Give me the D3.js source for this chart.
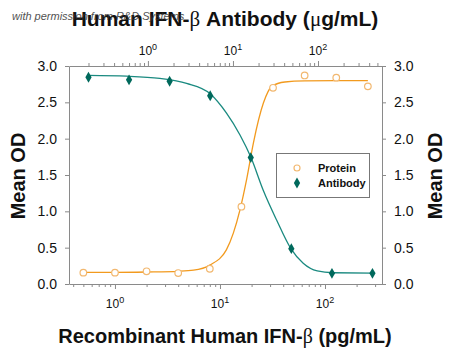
<!DOCTYPE html>
<html>
<head>
<meta charset="utf-8">
<script src="https://cdn.jsdelivr.net/npm/d3@7"></script>
<style>
  body { margin: 0; background: #fff; }
  svg text { font-family: "Liberation Sans", Arial, sans-serif; }
</style>
</head>
<body>
<div id="chart"></div>
<script>
// Protein (bottom axis, pg/mL) - measured points
const proteinConc = [0.5, 1, 2, 4, 8, 16, 32, 64, 128, 256];
const proteinOD = [0.156, 0.156, 0.175, 0.151, 0.21, 1.064, 2.70, 2.87, 2.84, 2.72];
// Protein fitted curve
const proteinFitConc = [0.5, 1, 2, 4, 5.6, 8, 11.5, 13.4, 15.5, 18, 20.8, 25.9, 31.2, 41.5, 64, 256];
const proteinFitOD = [0.16, 0.16, 0.165, 0.175, 0.19, 0.26, 0.47, 0.70, 1.02, 1.45, 1.94, 2.49, 2.72, 2.78, 2.795, 2.8];

// Antibody (top axis, ug/mL) - measured points
const antibodyConc = [0.2, 0.6, 1.8, 5.4, 16.2, 48.6, 146, 437];
const antibodyOD = [2.845, 2.81, 2.79, 2.59, 1.74, 0.486, 0.147, 0.147];
// Antibody fitted curve
const antibodyFitConc = [0.2, 0.56, 1.38, 2.85, 5.35, 8.4, 12.1, 16.3, 22.7, 32.6, 48, 67, 98, 150, 437];
const antibodyFitOD = [2.87, 2.86, 2.83, 2.76, 2.62, 2.35, 2.05, 1.74, 1.29, 0.88, 0.486, 0.285, 0.18, 0.155, 0.15];

const yTicks = [0, 0.5, 1.0, 1.5, 2.0, 2.5, 3.0];
const decadeExps = [0, 1, 2];
const legendLabels = ["Protein", "Antibody"];

const width = 450;
const height = 352;
const plot = { left: 69, right: 382, top: 66, bottom: 284 };

const orange = "#f29a1e";
const orangeLight = "#f2b870";
const teal = "#1a8a80";
const tealDark = "#00695c";
const axisColor = "#8a8a8a";

const svg = d3.select("#chart")
    .append("svg")
    .attr("width", width)
    .attr("height", height);

// Scales
const xBottom = d3.scaleLog()
    .domain([0.365, 349])
    .range([plot.left, plot.right]);

const xTop = d3.scaleLog()
    .domain([0.118, 566])
    .range([plot.left, plot.right]);

const y = d3.scaleLinear()
    .domain([0, 3])
    .range([plot.bottom, plot.top]);

// Log ticks: all 1..9 multiples inside the domain
function logTicks(scale) {
    const [a, b] = scale.domain();
    const vals = [];
    for (let e = -2; e <= 3; e++) {
        for (let m = 1; m <= 9; m++) {
            const v = m * Math.pow(10, e);
            if (v >= a && v <= b) vals.push(v);
        }
    }
    return vals;
}
const isMajor = v => Math.abs(Math.log10(v) - Math.round(Math.log10(v))) < 1e-9;

// Bottom axis
const gBottom = svg.append("g")
    .attr("transform", `translate(0, ${plot.bottom})`)
    .call(d3.axisBottom(xBottom).tickValues(logTicks(xBottom)).tickFormat("").tickSizeOuter(0));
gBottom.selectAll(".tick line").attr("y2", d => isMajor(d) ? 5 : 3);

// Top axis
const gTop = svg.append("g")
    .attr("transform", `translate(0, ${plot.top})`)
    .call(d3.axisTop(xTop).tickValues(logTicks(xTop)).tickFormat("").tickSizeOuter(0));
gTop.selectAll(".tick line").attr("y2", d => isMajor(d) ? -5 : -3);

// Left and right axes
const gLeft = svg.append("g")
    .attr("transform", `translate(${plot.left}, 0)`)
    .call(d3.axisLeft(y).tickValues(yTicks).tickFormat(d3.format(".1f")).tickSize(4).tickSizeOuter(0).tickPadding(8));

const gRight = svg.append("g")
    .attr("transform", `translate(${plot.right}, 0)`)
    .call(d3.axisRight(y).tickValues(yTicks).tickFormat(d3.format(".1f")).tickSize(4).tickSizeOuter(0).tickPadding(8));

[gBottom, gTop, gLeft, gRight].forEach(g => {
    g.select(".domain").attr("stroke", axisColor);
    g.selectAll(".tick line").attr("stroke", axisColor);
});
[gLeft, gRight].forEach(g => {
    g.selectAll(".tick text")
        .attr("font-size", 14)
        .attr("fill", "#111")
        .attr("font-family", "'Liberation Sans', Arial, sans-serif");
});

// Decade labels with superscripts
function decadeLabels(scale, yPos) {
    svg.append("g").selectAll("text")
        .data(decadeExps)
        .join("text")
        .attr("x", d => scale(Math.pow(10, d)))
        .attr("y", yPos)
        .attr("text-anchor", "middle")
        .attr("font-size", 12)
        .attr("fill", "#111")
        .each(function(d) {
            const t = d3.select(this);
            t.append("tspan").text("10");
            t.append("tspan").attr("dy", -5).attr("font-size", 9).text(d);
        });
}
decadeLabels(xBottom, 308);
decadeLabels(xTop, 55);

// Titles
const title = svg.append("text")
    .attr("x", 225)
    .attr("y", 26)
    .attr("text-anchor", "middle")
    .attr("font-size", 21)
    .attr("font-weight", "bold")
    .attr("fill", "#111");
title.append("tspan").text("Human IFN-");
title.append("tspan").attr("font-family", "'Liberation Serif', serif").attr("font-weight", "normal").text("β");
title.append("tspan").text(" Antibody (");
title.append("tspan").attr("font-family", "'Liberation Serif', serif").attr("font-weight", "normal").text("μ");
title.append("tspan").text("g/mL)");

const xTitle = svg.append("text")
    .attr("x", 225)
    .attr("y", 343)
    .attr("text-anchor", "middle")
    .attr("font-size", 20)
    .attr("font-weight", "bold")
    .attr("fill", "#111");
xTitle.append("tspan").text("Recombinant Human IFN-");
xTitle.append("tspan").attr("font-family", "'Liberation Serif', serif").attr("font-weight", "normal").text("β");
xTitle.append("tspan").text(" (pg/mL)");

[[25, 176], [442, 176]].forEach(([tx, ty]) => {
    svg.append("text")
        .attr("transform", `translate(${tx}, ${ty}) rotate(-90)`)
        .attr("text-anchor", "middle")
        .attr("font-size", 20)
        .attr("font-weight", "bold")
        .attr("fill", "#111")
        .text("Mean OD");
});

// Watermark
svg.append("text")
    .attr("x", 12)
    .attr("y", 20)
    .attr("font-family", "'Liberation Serif', serif")
    .attr("font-style", "italic")
    .attr("font-size", 11)
    .attr("fill", "#333")
    .attr("opacity", 0.85)
    .text("with permission from R&D Systems");

// Fitted curves
const proteinFit = proteinFitConc.map((c, i) => ({ c, v: proteinFitOD[i] }));
const antibodyFit = antibodyFitConc.map((c, i) => ({ c, v: antibodyFitOD[i] }));

svg.append("path")
    .datum(proteinFit)
    .attr("fill", "none")
    .attr("stroke", orange)
    .attr("stroke-width", 1.3)
    .attr("d", d3.line().x(d => xBottom(d.c)).y(d => y(d.v)).curve(d3.curveMonotoneX));

svg.append("path")
    .datum(antibodyFit)
    .attr("fill", "none")
    .attr("stroke", teal)
    .attr("stroke-width", 1.3)
    .attr("d", d3.line().x(d => xTop(d.c)).y(d => y(d.v)).curve(d3.curveMonotoneX));

// Points
const proteinPts = proteinConc.map((c, i) => ({ c, v: proteinOD[i] }));
const antibodyPts = antibodyConc.map((c, i) => ({ c, v: antibodyOD[i] }));

svg.append("g").selectAll("circle")
    .data(proteinPts)
    .join("circle")
    .attr("cx", d => xBottom(d.c))
    .attr("cy", d => y(d.v))
    .attr("r", 3.3)
    .attr("fill", "#fff")
    .attr("stroke", orangeLight)
    .attr("stroke-width", 1.2);

const diamond = d3.symbol().type(d3.symbolDiamond).size(34);
svg.append("g").selectAll("path")
    .data(antibodyPts)
    .join("path")
    .attr("transform", d => `translate(${xTop(d.c)}, ${y(d.v)})`)
    .attr("d", diamond)
    .attr("fill", tealDark);

// Legend
const legend = svg.append("g");
legend.append("rect")
    .attr("x", 276.5)
    .attr("y", 153.5)
    .attr("width", 93)
    .attr("height", 44)
    .attr("fill", "#fff")
    .attr("stroke", "#777")
    .attr("stroke-width", 1);

legendLabels.forEach((label, i) => {
    const ly = 168 + i * 15;
    if (i === 0) {
        legend.append("circle")
            .attr("cx", 297)
            .attr("cy", ly)
            .attr("r", 3)
            .attr("fill", "#fff")
            .attr("stroke", orangeLight)
            .attr("stroke-width", 1.2);
    } else {
        legend.append("path")
            .attr("transform", `translate(297, ${ly})`)
            .attr("d", diamond)
            .attr("fill", tealDark);
    }
    legend.append("text")
        .attr("x", 318)
        .attr("y", ly + 4)
        .attr("font-size", 11)
        .attr("font-weight", "bold")
        .attr("fill", "#111")
        .text(label);
});
</script>
</body>
</html>
